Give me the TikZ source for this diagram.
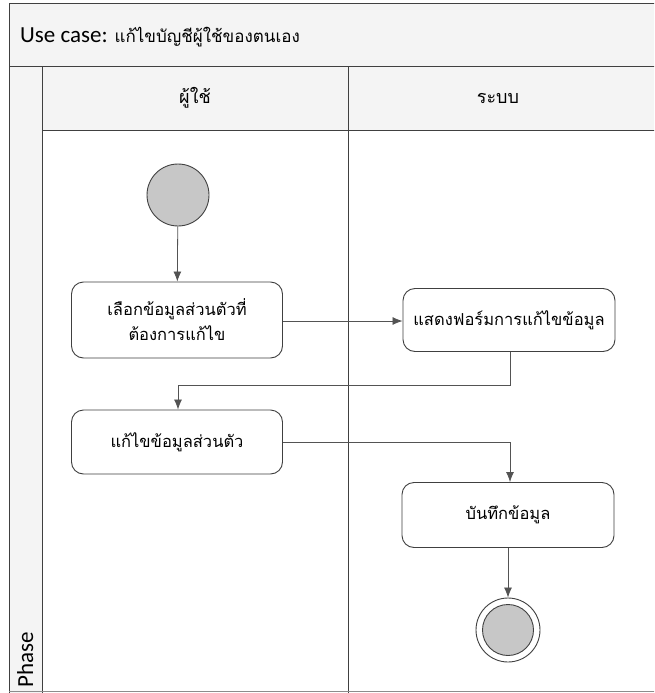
\documentclass[tikz,border=0pt]{standalone}
\usepackage{fontspec}
\setmainfont{Carlito}
\newfontfamily\thai[Script=Thai]{Loma}
\usetikzlibrary{arrows.meta}
\definecolor{frame}{gray}{0.25}
\definecolor{hdr}{gray}{0.955}
\definecolor{dotfill}{gray}{0.78}
\tikzset{
  act/.style={draw=frame, line width=0.9pt, rounded corners=12pt, fill=white, align=center, font=\thai\fontsize{16.5}{25}\selectfont, inner sep=0pt},
  flow/.style={draw=frame!90, line width=0.8pt, -{Latex[length=10pt,width=8pt]}},
  lane/.style={draw=frame, line width=1pt},
  hdrtext/.style={font=\thai\fontsize{18}{20}\selectfont, inner sep=0pt}
}
\begin{document}
\begin{tikzpicture}[x=1pt,y=-1pt]
\useasboundingbox (0,0) rectangle (654,693);
\clip (0,0) rectangle (654,693);
\fill[white] (0,0) rectangle (654,693);
% header areas
\fill[hdr] (9,4) rectangle (660,130);
\fill[hdr] (9,130) rectangle (42,700);
% frame lines
\draw[lane] (9,700) -- (9,4) -- (660,4);
\draw[lane] (9,67) -- (660,67);
\draw[lane] (42,130) -- (660,130);
\draw[lane] (42,67) -- (42,700);
\draw[lane] (348,67) -- (348,700);
\draw[frame!60, line width=0.8pt] (9,691) -- (660,691);
% texts
\node[anchor=base west, inner sep=0pt] (title) at (20,43) {\fontsize{23}{26}\selectfont Use case: {\thai\fontsize{17}{20}\selectfont แก้ไขบัญชีผู้ใช้ของตนเอง}};
\node[hdrtext] (l1) at (195,98) {ผู้ใช้};
\node[hdrtext] (l2) at (498,98) {ระบบ};
\node[rotate=90, anchor=base west, inner sep=0pt, font=\fontsize{23}{26}\selectfont] (phase) at (33,688) {Phase};
% activity nodes
\node[circle, draw=frame, fill=dotfill, line width=0.9pt, minimum size=62pt, inner sep=0pt] (start) at (178,195) {};
\node[act, minimum width=211pt, minimum height=76pt] (a1) at (177,320) {เลือกข้อมูลส่วนตัวที่\\ต้องการแก้ไข};
\node[act, minimum width=212pt, minimum height=63pt] (a2) at (509,320) {แสดงฟอร์มการแก้ไขข้อมูล};
\node[act, minimum width=211pt, minimum height=64pt] (a3) at (177,442) {แก้ไขข้อมูลส่วนตัว};
\node[act, minimum width=212pt, minimum height=65pt] (a4) at (508,515) {บันทึกข้อมูล};
\node[circle, draw=frame, line width=0.9pt, minimum size=64pt, inner sep=0pt] (end) at (508,630) {};
\node[circle, draw=frame, fill=dotfill, line width=0.9pt, minimum size=51pt, inner sep=0pt] (endin) at (end.center) {};
% flows
\coordinate (b1) at (510,385);
\coordinate (b2) at (178,385);
\coordinate (c1) at (510,442);
\draw[flow] (start) -- (a1);
\draw[flow] (a1.east |- 0,321) -- (a2.west |- 0,321);
\draw[flow] (a2.south -| b1) -- (b1) -- (b2) -- (a3.north -| b2);
\draw[flow] (a3.east) -- (c1) -- (a4.north -| c1);
\draw[flow] (a4.south -| end.north) -- (end.north);
\end{tikzpicture}
\end{document}
